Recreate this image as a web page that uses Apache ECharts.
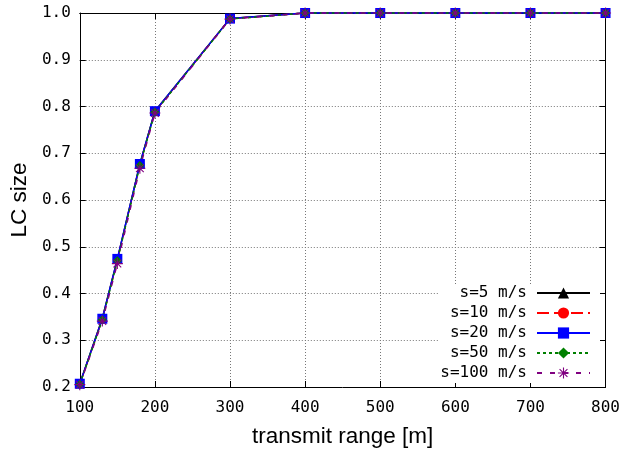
<!DOCTYPE html>
<html><head><meta charset="utf-8">
<script src="https://cdn.jsdelivr.net/npm/echarts@6/dist/echarts.min.js"></script>
<style>html,body{margin:0;padding:0;background:#fff}#c{width:623px;height:453px}</style>
</head><body><div id="c"></div>
<script>
const xValues = [100, 130, 150, 180, 200, 300, 400, 500, 600, 700, 800];
const s5   = [0.207, 0.347, 0.473, 0.677, 0.790, 0.988, 1.0, 1.0, 1.0, 1.0, 1.0];
const s10  = [0.206, 0.345, 0.472, 0.676, 0.789, 0.988, 1.0, 1.0, 1.0, 1.0, 1.0];
const s20  = [0.207, 0.346, 0.474, 0.677, 0.790, 0.988, 1.0, 1.0, 1.0, 1.0, 1.0];
const s50  = [0.206, 0.344, 0.470, 0.674, 0.788, 0.987, 1.0, 1.0, 1.0, 1.0, 1.0];
const s100 = [0.205, 0.341, 0.464, 0.668, 0.786, 0.987, 1.0, 1.0, 1.0, 1.0, 1.0];
const seriesNames = ['s=5 m/s', 's=10 m/s', 's=20 m/s', 's=50 m/s', 's=100 m/s'];
const xTitle = 'transmit range [m]';
const yTitle = 'LC size';

const mono = 'DejaVu Sans Mono';
const sans = 'Liberation Sans';
const star = 'path://M-1,-10L1,-10L1,10L-1,10Z M-10,-1L10,-1L10,1L-10,1Z M-6.3,-7.7L7.7,6.3L6.3,7.7L-7.7,-6.3Z M6.3,-7.7L7.7,-6.3L-6.3,7.7L-7.7,6.3Z';

const styles = [
  {color: '#000000', symbol: 'triangle', size: 9, type: 'solid'},
  {color: '#ff0000', symbol: 'circle', size: 9, type: [12, 5]},
  {color: '#0000ff', symbol: 'rect', size: 10, type: 'solid'},
  {color: '#008000', symbol: 'diamond', size: 9, type: [3, 3]},
  {color: '#800080', symbol: star, size: 11, type: [5, 8]}
];
const allData = [s5, s10, s20, s50, s100];

const chart = echarts.init(document.getElementById('c'), null, {renderer: 'canvas'});
const tickCommon = {show: true, inside: true, length: 6, lineStyle: {color: '#000', width: 1}};
const gridLine = {show: true, lineStyle: {color: '#777', type: [1, 2], width: 1}};
chart.setOption({
  animation: false,
  backgroundColor: '#fff',
  grid: {left: 76, right: 17, top: 13, bottom: 65},
  xAxis: [{
    type: 'value', min: 100, max: 800, interval: 100,
    axisLine: {show: true, lineStyle: {color: '#000', width: 1}},
    axisTick: tickCommon,
    axisLabel: {fontFamily: mono, fontSize: 16, color: '#000', margin: 13},
    splitLine: gridLine,
    name: xTitle, nameLocation: 'middle', nameGap: 38,
    nameTextStyle: {fontFamily: sans, fontSize: 22.5, color: '#000'}
  }, {
    type: 'value', position: 'top', min: 100, max: 800, interval: 100,
    axisLine: {show: true, lineStyle: {color: '#000', width: 1}},
    axisTick: tickCommon, axisLabel: {show: false}, splitLine: {show: false}
  }],
  yAxis: [{
    type: 'value', min: 0.2, max: 1.0, interval: 0.1,
    axisLine: {show: true, lineStyle: {color: '#000', width: 1}},
    axisTick: tickCommon,
    axisLabel: {fontFamily: mono, fontSize: 16, color: '#000', margin: 9, formatter: v => v.toFixed(1)},
    splitLine: gridLine,
    name: yTitle, nameLocation: 'middle', nameGap: 44,
    nameTextStyle: {fontFamily: sans, fontSize: 22.5, color: '#000'}
  }, {
    type: 'value', position: 'right', min: 0.2, max: 1.0, interval: 0.1,
    axisLine: {show: true, lineStyle: {color: '#000', width: 1}},
    axisTick: tickCommon, axisLabel: {show: false}, splitLine: {show: false}
  }],
  legend: {
    data: seriesNames,
    orient: 'vertical', right: 23, bottom: 70, align: 'right',
    itemWidth: 53, itemHeight: 14, itemGap: 4,
    backgroundColor: '#fff', padding: [1, 9, 2, 2],
    formatter: n => n.padStart(9, ' '),
    textStyle: {fontFamily: mono, fontSize: 16, color: '#000', lineHeight: 16, padding: [0, 5, 0, 0]}
  },
  series: seriesNames.map((name, i) => ({
    name: name, type: 'line', xAxisIndex: 0, yAxisIndex: 0,
    data: xValues.map((x, j) => [x, allData[i][j]]),
    symbol: styles[i].symbol, symbolSize: styles[i].size, showSymbol: true, showAllSymbol: true,
    itemStyle: {color: styles[i].color, borderWidth: 0},
    lineStyle: {color: styles[i].color, width: 1.5, type: styles[i].type},
    clip: false
  }))
});
</script></body></html>
